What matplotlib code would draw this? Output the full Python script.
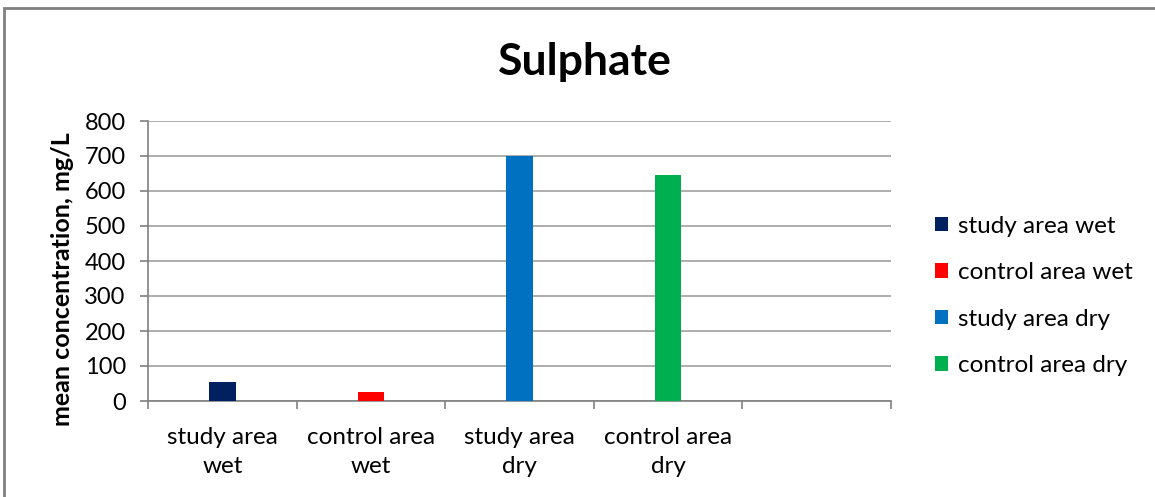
import matplotlib
matplotlib.use("Agg")
import matplotlib.pyplot as plt
from matplotlib.patches import Patch, Rectangle
import numpy as np

categories = ["study area\nwet", "control area\nwet", "study area\ndry", "control area\ndry", ""]
series_names = ["study area wet", "control area wet", "study area dry", "control area dry"]
values = [53, 27, 700, 646]
colors = ["#002060", "#FF0000", "#0070C0", "#00B050"]
yticks = [0, 100, 200, 300, 400, 500, 600, 700, 800]

plt.rcParams['font.family'] = ['Lato', 'DejaVu Sans']

fig = plt.figure(figsize=(11.55, 4.97), dpi=100)
ax = fig.add_axes([148/1155, 1-401/497, (891-148)/1155, (401-121)/497])

x = np.arange(len(categories))
for i, (v, c) in enumerate(zip(values, colors)):
    ax.bar(x[i], v, width=0.18, color=c, zorder=3, label=series_names[i])

ax.set_xlim(-0.5, len(categories)-0.5)
ax.set_ylim(0, 800)
ax.set_yticks(yticks)
ax.set_yticklabels([str(t) for t in yticks], fontsize=17)
ax.yaxis.grid(True, color="#A0A0A0", linewidth=1.2, zorder=0)
ax.set_axisbelow(True)

ax.set_xticks(x)
ax.set_xticklabels(categories, fontsize=17.5, linespacing=1.45)
ax.tick_params(axis='x', which='major', length=0, pad=19)
ax.set_xticks(np.arange(-0.5, len(categories)), minor=True)
ax.tick_params(axis='x', which='minor', length=6, color="#808080", width=1.2, direction='out')
ax.tick_params(axis='y', length=6, color="#808080", width=1.2, pad=10)

for s in ["top", "right"]:
    ax.spines[s].set_visible(False)
for s in ["left", "bottom"]:
    ax.spines[s].set_color("#808080")
    ax.spines[s].set_linewidth(1.2)

ax.set_ylabel("mean concentration, mg/L", fontsize=18, fontweight='bold')
ax.yaxis.set_label_coords(-0.099, 0.437)
fig.text(585/1155, 1-62/497, "Sulphate", fontsize=32, fontweight='bold', ha='center', va='center')

handles = [Patch(facecolor=c, label=n) for c, n in zip(colors, series_names)]
fig.legend(handles=handles, loc='center left', bbox_to_anchor=(913/1155, 1-296/497),
           frameon=False, fontsize=17.5, handlelength=0.55, handleheight=0.55,
           handletextpad=0.4, labelspacing=1.05)

fig.patches.append(Rectangle((4/1155, -0.1), 1.2, 1-8/497+0.1, transform=fig.transFigure,
                             fill=False, edgecolor="#808080", linewidth=2))

fig.savefig("out.png", dpi=100)
